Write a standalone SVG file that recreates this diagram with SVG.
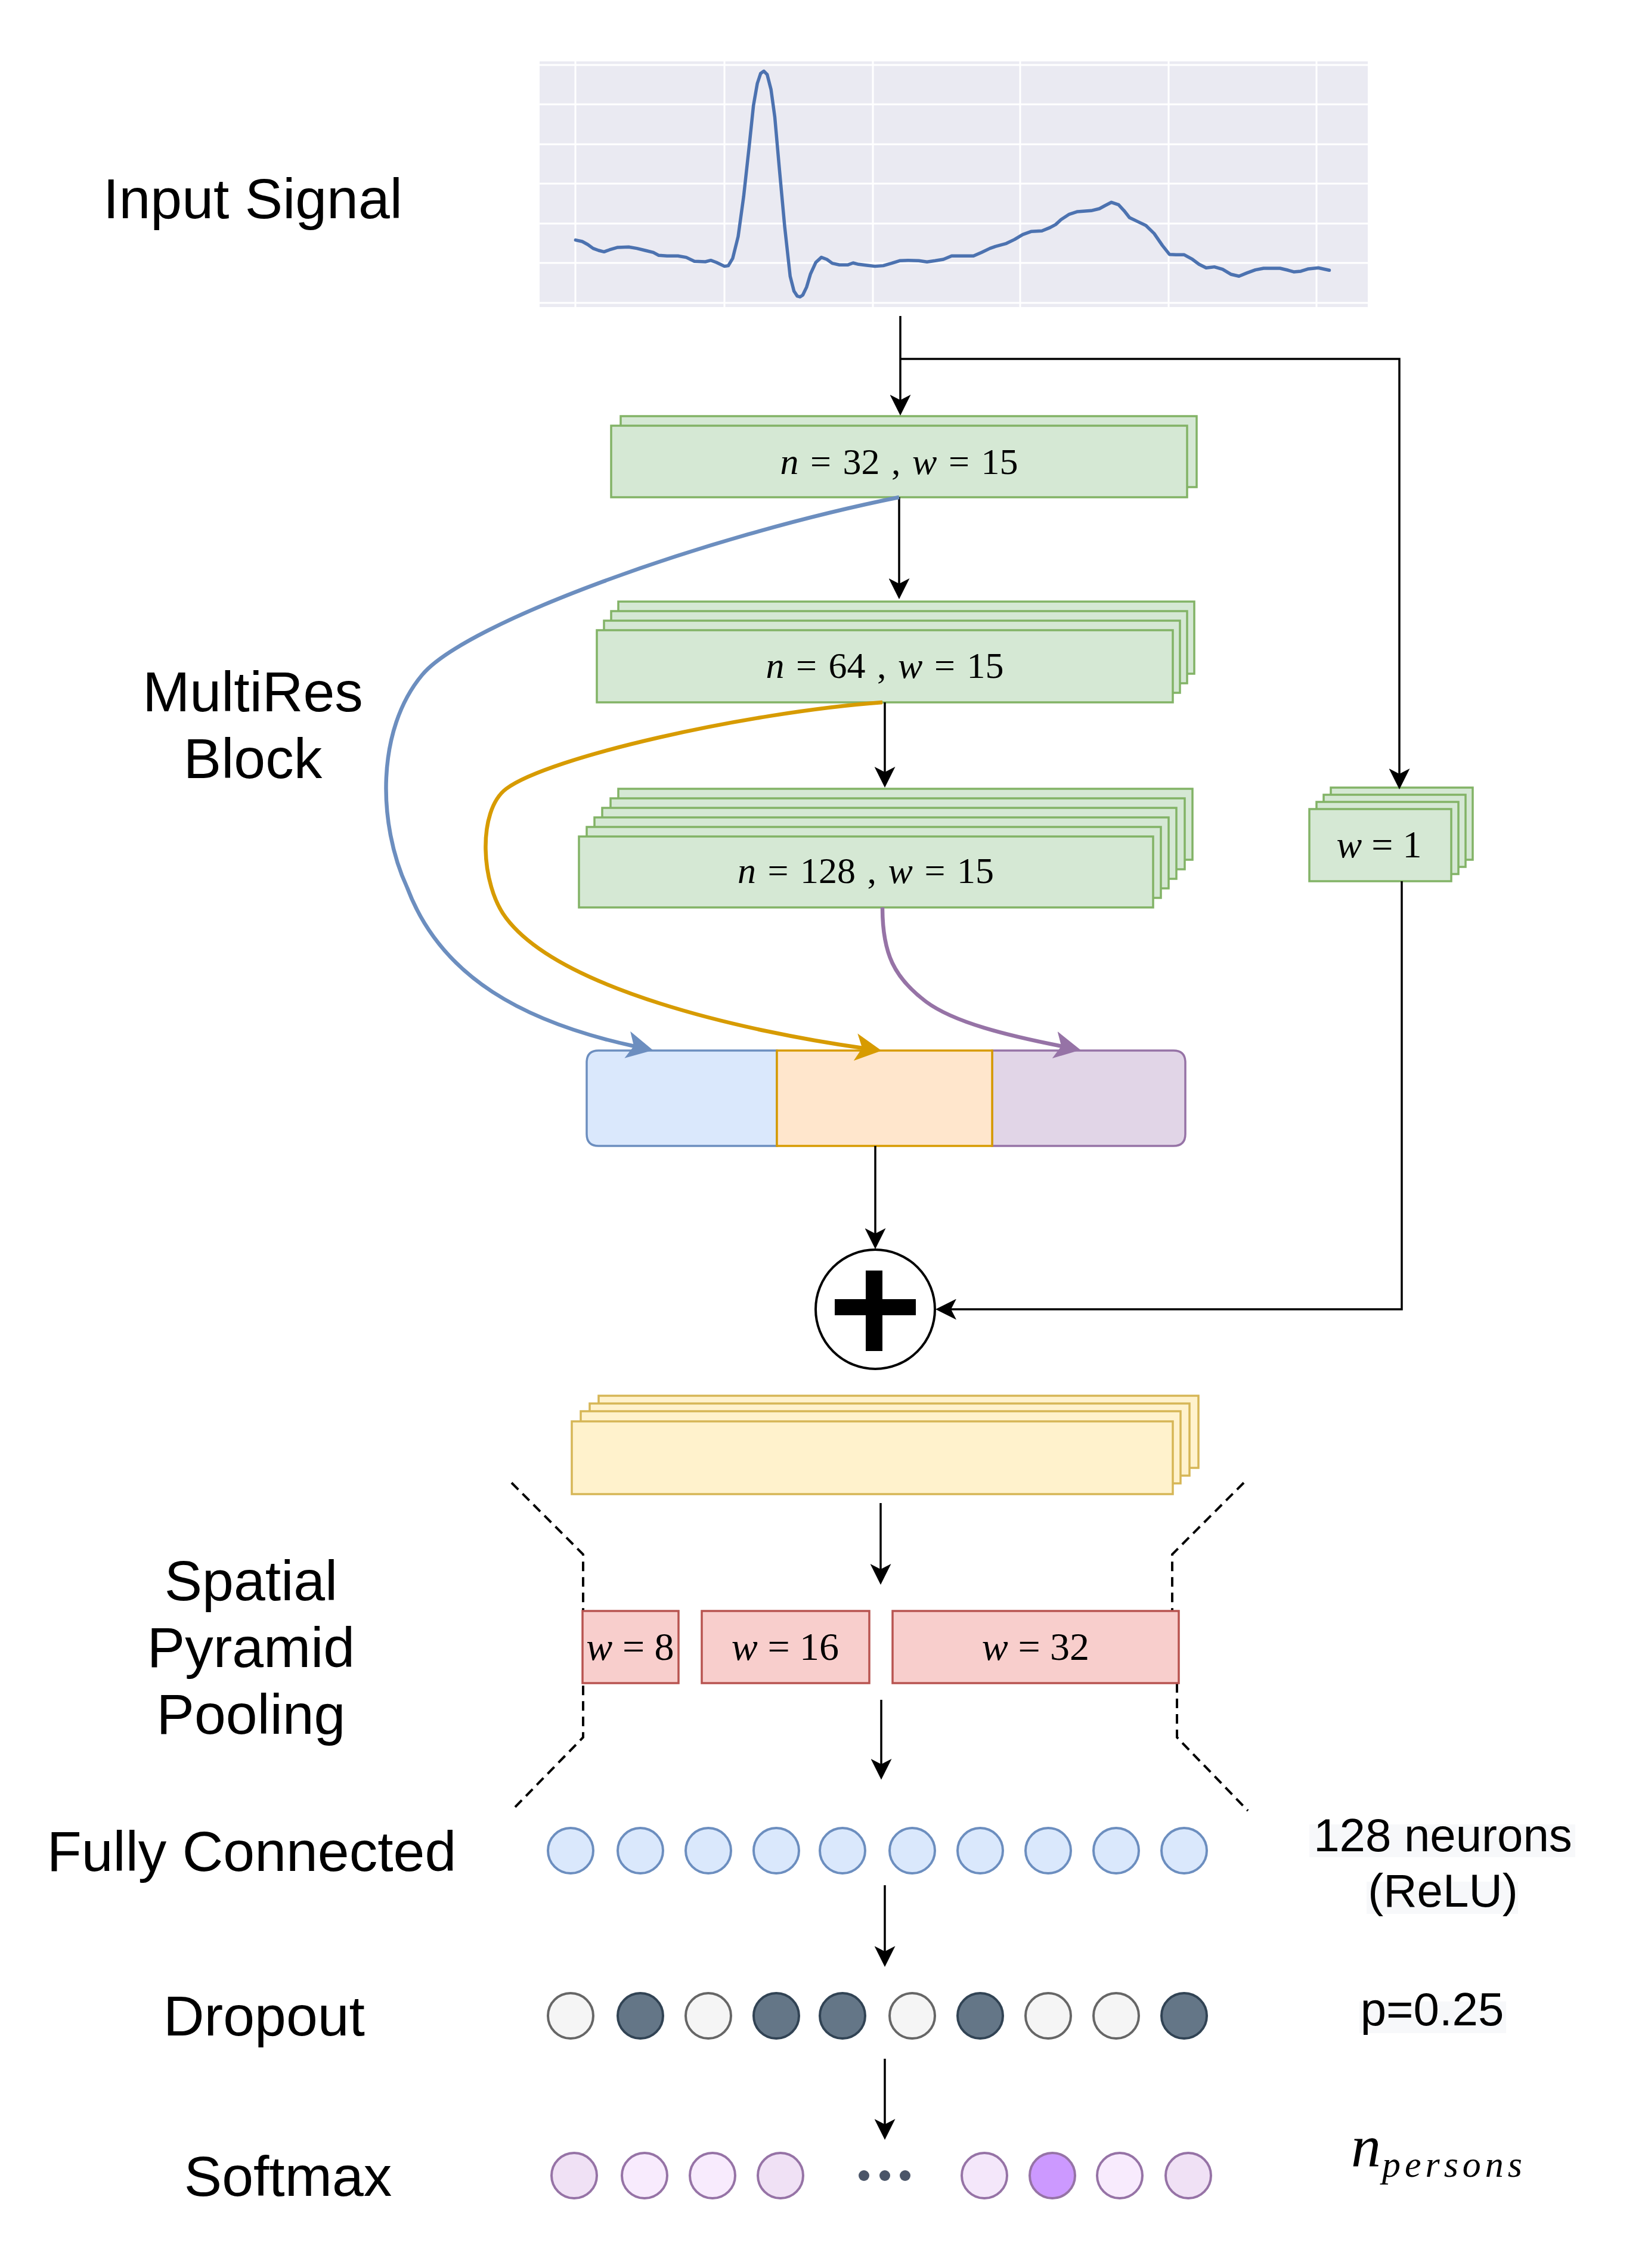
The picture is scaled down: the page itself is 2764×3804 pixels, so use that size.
<svg xmlns="http://www.w3.org/2000/svg" width="2764" height="3804" viewBox="0 0 2764 3804">
<style>
.lbl{font-family:"Liberation Sans",Arial,sans-serif;font-size:95px;text-anchor:middle;fill:#000}
.rl{font-family:"Liberation Sans",Arial,sans-serif;font-size:78px;text-anchor:middle;fill:#000}
.m{font-family:"Liberation Serif","Times New Roman",serif;font-size:62px;text-anchor:middle;word-spacing:4px;fill:#000}
.ms{font-family:"Liberation Serif","Times New Roman",serif;font-size:66px;text-anchor:middle;fill:#000}
.i{font-style:italic}
.g{fill:#d5e8d4;stroke:#82b366;stroke-width:3.5}
.y{fill:#fff2cc;stroke:#d6b656;stroke-width:3.5}
.r{fill:#f8cecc;stroke:#b85450;stroke-width:3.5}
.fc{fill:#dae8fc;stroke:#6c8ebf;stroke-width:4}
.dl{fill:#f5f5f5;stroke:#666666;stroke-width:4}
.dd{fill:#647687;stroke:#314354;stroke-width:4}
.sm{stroke:#9673a6;stroke-width:4}
.arr{fill:none;stroke:#000;stroke-width:3.5;marker-end:url(#ah)}
.dash{fill:none;stroke:#000;stroke-width:4;stroke-dasharray:16 10}
.grid{stroke:#ffffff;stroke-width:3}
.hl{fill:#f7f8fa}
</style>
<defs>
<marker id="ah" markerUnits="userSpaceOnUse" markerWidth="35" markerHeight="35" viewBox="0 0 35 35" refX="11" refY="17.5" orient="auto"><path d="M0,0 L35,17.5 L0,35 L9,17.5 Z" fill="#000"/></marker>
<marker id="ahB" markerUnits="userSpaceOnUse" markerWidth="44" markerHeight="46" viewBox="0 0 44 46" refX="13" refY="23" orient="auto"><path d="M0,0 L44,23 L0,46 L11,23 Z" fill="#6c8ebf"/></marker>
<marker id="ahO" markerUnits="userSpaceOnUse" markerWidth="44" markerHeight="46" viewBox="0 0 44 46" refX="13" refY="23" orient="auto"><path d="M0,0 L44,23 L0,46 L11,23 Z" fill="#d79b00"/></marker>
<marker id="ahP" markerUnits="userSpaceOnUse" markerWidth="44" markerHeight="46" viewBox="0 0 44 46" refX="13" refY="23" orient="auto"><path d="M0,0 L44,23 L0,46 L11,23 Z" fill="#9673a6"/></marker>
</defs>
<rect width="2764" height="3804" fill="#ffffff"/>

<g id="labels">
<text class="lbl" x="424" y="366">Input Signal</text>
<text class="lbl" x="424" y="1193">MultiRes</text>
<text class="lbl" x="424" y="1305">Block</text>
<text class="lbl" x="421" y="2684">Spatial</text>
<text class="lbl" x="421" y="2796">Pyramid</text>
<text class="lbl" x="421" y="2908">Pooling</text>
<text class="lbl" x="422" y="3138">Fully Connected</text>
<text class="lbl" x="443" y="3414">Dropout</text>
<text class="lbl" x="483" y="3683">Softmax</text>
</g>

<g id="input-signal">
<rect x="905" y="103" width="1389" height="412" fill="#eaeaf2"/>
<line class="grid" x1="905" y1="109" x2="2294" y2="109"/>
<line class="grid" x1="905" y1="175" x2="2294" y2="175"/>
<line class="grid" x1="905" y1="242" x2="2294" y2="242"/>
<line class="grid" x1="905" y1="308" x2="2294" y2="308"/>
<line class="grid" x1="905" y1="375" x2="2294" y2="375"/>
<line class="grid" x1="905" y1="441" x2="2294" y2="441"/>
<line class="grid" x1="905" y1="508" x2="2294" y2="508"/>
<line class="grid" x1="965" y1="103" x2="965" y2="515"/>
<line class="grid" x1="1215" y1="103" x2="1215" y2="515"/>
<line class="grid" x1="1464" y1="103" x2="1464" y2="515"/>
<line class="grid" x1="1711" y1="103" x2="1711" y2="515"/>
<line class="grid" x1="1960" y1="103" x2="1960" y2="515"/>
<line class="grid" x1="2208" y1="103" x2="2208" y2="515"/>
<g transform="translate(880,80) scale(0.918,0.3333)">
<path vector-effect="non-scaling-stroke" fill="none" stroke="#4c72b0" stroke-width="5.5" stroke-linejoin="round" stroke-linecap="round" d="M93,968 L105,975 L115,990 L125,1010 L135,1020 L145,1027 L155,1017 L170,1005 L190,1003 L205,1010 L220,1020 L235,1030 L245,1045 L260,1048 L280,1048 L295,1055 L310,1075 L330,1077 L340,1070 L350,1080 L365,1100 L372,1097 L380,1060 L390,950 L400,750 L410,500 L418,290 L425,180 L431,130 L437,118 L443,135 L450,210 L457,350 L465,600 L475,900 L485,1150 L492,1225 L498,1250 L503,1254 L508,1245 L515,1205 L522,1140 L532,1080 L542,1055 L552,1065 L562,1085 L575,1093 L590,1093 L600,1083 L610,1090 L625,1095 L640,1100 L655,1097 L670,1085 L685,1072 L700,1070 L720,1072 L735,1078 L750,1072 L765,1065 L780,1048 L800,1048 L820,1048 L835,1030 L850,1010 L860,1000 L880,985 L895,965 L910,940 L925,925 L945,922 L960,905 L970,890 L980,865 L995,838 L1010,825 L1035,820 L1050,810 L1060,795 L1072,778 L1085,790 L1095,820 L1105,855 L1120,875 L1135,895 L1150,935 L1165,995 L1178,1040 L1190,1042 L1205,1042 L1220,1065 L1232,1090 L1245,1108 L1260,1103 L1275,1115 L1290,1140 L1305,1150 L1320,1133 L1335,1118 L1350,1110 L1380,1110 L1395,1120 L1405,1128 L1418,1125 L1432,1113 L1450,1108 L1470,1120"/>
</g>
</g>

<g id="block-n32">
<rect class="g" x="1041" y="698" width="966" height="119"/>
<rect class="g" x="1025" y="714" width="966" height="120"/>
<text class="m" x="1508" y="795"><tspan class="i">n</tspan> = 32 , <tspan class="i">w</tspan> = 15</text>
</g>

<g id="block-n64">
<rect class="g" x="1037" y="1009" width="966" height="121"/>
<rect class="g" x="1025" y="1025" width="966" height="121"/>
<rect class="g" x="1013" y="1041" width="966" height="121"/>
<rect class="g" x="1001" y="1057" width="966" height="121"/>
<text class="m" x="1484" y="1137"><tspan class="i">n</tspan> = 64 , <tspan class="i">w</tspan> = 15</text>
</g>

<g id="block-n128">
<rect class="g" x="1037" y="1323" width="963" height="119"/>
<rect class="g" x="1024" y="1339" width="963" height="119"/>
<rect class="g" x="1010" y="1355" width="963" height="119"/>
<rect class="g" x="997" y="1371" width="963" height="119"/>
<rect class="g" x="984" y="1387" width="963" height="119"/>
<rect class="g" x="971" y="1403" width="963" height="119"/>
<text class="m" x="1452" y="1481"><tspan class="i">n</tspan> = 128 , <tspan class="i">w</tspan> = 15</text>
</g>

<g id="block-w1">
<rect class="g" x="2232" y="1321" width="238" height="121"/>
<rect class="g" x="2220" y="1333" width="238" height="121"/>
<rect class="g" x="2208" y="1345" width="238" height="121"/>
<rect class="g" x="2196" y="1357" width="238" height="121"/>
<text class="ms" x="2313" y="1438" style="font-size:64px"><tspan class="i">w</tspan> = 1</text>
</g>

<g id="concat">
<path d="M1303,1762 H1004 Q984,1762 984,1782 V1902 Q984,1922 1004,1922 H1303 Z" fill="#dae8fc" stroke="#6c8ebf" stroke-width="3.5"/>
<path d="M1664,1762 H1968 Q1988,1762 1988,1782 V1902 Q1988,1922 1968,1922 H1664 Z" fill="#e1d5e7" stroke="#9673a6" stroke-width="3.5"/>
<rect x="1303" y="1762" width="361" height="160" fill="#ffe6cc" stroke="#d79b00" stroke-width="3.5"/>
</g>

<g id="add">
<circle cx="1468" cy="2196" r="100" fill="#ffffff" stroke="#000" stroke-width="4"/>
<rect x="1452" y="2131" width="28" height="135" fill="#000"/>
<rect x="1400" y="2179" width="136" height="27" fill="#000"/>
</g>

<g id="feature-maps">
<rect class="y" x="1004" y="2341" width="1006" height="121"/>
<rect class="y" x="989" y="2354" width="1006" height="121"/>
<rect class="y" x="974" y="2367" width="1006" height="121"/>
<rect class="y" x="959" y="2384" width="1008" height="122"/>
</g>

<g id="spp-bracket">
<path class="dash" d="M858,2487 L978,2607 L978,2914 L858,3037"/>
<path class="dash" d="M2086,2487 L1966,2607 L1966,2702"/>
<path class="dash" d="M1974,2823 L1974,2914 L2093,3037"/>
</g>

<g id="spp">
<rect class="r" x="977" y="2702" width="161" height="121"/>
<rect class="r" x="1177" y="2702" width="281" height="121"/>
<rect class="r" x="1497" y="2702" width="480" height="121"/>
<text class="ms" x="1057" y="2784"><tspan class="i">w</tspan> = 8</text>
<text class="ms" x="1317" y="2784"><tspan class="i">w</tspan> = 16</text>
<text class="ms" x="1737" y="2784"><tspan class="i">w</tspan> = 32</text>
</g>

<g id="fully-connected">
<circle class="fc" cx="957" cy="3104" r="38"/>
<circle class="fc" cx="1074" cy="3104" r="38"/>
<circle class="fc" cx="1188" cy="3104" r="38"/>
<circle class="fc" cx="1302" cy="3104" r="38"/>
<circle class="fc" cx="1413" cy="3104" r="38"/>
<circle class="fc" cx="1530" cy="3104" r="38"/>
<circle class="fc" cx="1644" cy="3104" r="38"/>
<circle class="fc" cx="1758" cy="3104" r="38"/>
<circle class="fc" cx="1872" cy="3104" r="38"/>
<circle class="fc" cx="1986" cy="3104" r="38"/>
</g>

<g id="dropout">
<circle class="dl" cx="957" cy="3381" r="38"/>
<circle class="dd" cx="1074" cy="3381" r="38"/>
<circle class="dl" cx="1188" cy="3381" r="38"/>
<circle class="dd" cx="1302" cy="3381" r="38"/>
<circle class="dd" cx="1413" cy="3381" r="38"/>
<circle class="dl" cx="1530" cy="3381" r="38"/>
<circle class="dd" cx="1644" cy="3381" r="38"/>
<circle class="dl" cx="1758" cy="3381" r="38"/>
<circle class="dl" cx="1872" cy="3381" r="38"/>
<circle class="dd" cx="1986" cy="3381" r="38"/>
</g>

<g id="softmax">
<circle class="sm" cx="963" cy="3649" r="38" fill="#f0e1f5"/>
<circle class="sm" cx="1081" cy="3649" r="38" fill="#f8ebfd"/>
<circle class="sm" cx="1195" cy="3649" r="38" fill="#f8ebfd"/>
<circle class="sm" cx="1309" cy="3649" r="38" fill="#f0e1f5"/>
<circle cx="1449" cy="3649" r="9" fill="#4a5568"/>
<circle cx="1484" cy="3649" r="9" fill="#4a5568"/>
<circle cx="1518" cy="3649" r="9" fill="#4a5568"/>
<circle class="sm" cx="1651" cy="3649" r="38" fill="#f4e7fa"/>
<circle class="sm" cx="1765" cy="3649" r="38" fill="#cc99ff"/>
<circle class="sm" cx="1878" cy="3649" r="38" fill="#f8ebfd"/>
<circle class="sm" cx="1993" cy="3649" r="38" fill="#f0e1f5"/>
</g>

<g id="side-labels">
<rect class="hl" x="2196" y="3060" width="446" height="55"/>
<rect class="hl" x="2292" y="3156" width="254" height="54"/>
<rect class="hl" x="2280" y="3357" width="246" height="53"/>
<text class="rl" x="2420" y="3105">128 neurons</text>
<text class="rl" x="2420" y="3198">(ReLU)</text>
<text class="rl" x="2402" y="3397">p=0.25</text>
<text font-family="'Liberation Serif','Times New Roman',serif" font-style="italic" fill="#000"><tspan x="2266" y="3633" font-size="100">n</tspan><tspan x="2318" y="3651" font-size="62" letter-spacing="7">persons</tspan></text>
</g>

<g id="connectors">
<path class="arr" d="M1510,530 V673"/>
<path class="arr" d="M1510,602 H2347 V1300"/>
<path class="arr" d="M1508,834 V981"/>
<path class="arr" d="M1484,1178 V1297"/>
<path class="arr" d="M1468,1922 V2071"/>
<path class="arr" d="M2351,1478 V2196 H1593"/>
<path class="arr" d="M1477,2521 V2634"/>
<path class="arr" d="M1478,2851 V2961"/>
<path class="arr" d="M1484,3162 V3275"/>
<path class="arr" d="M1484,3453 V3565"/>
<path fill="none" stroke="#6c8ebf" stroke-width="6.5" marker-end="url(#ahB)" d="M1508,834 C1180,900 780,1045 708,1132 C631,1224 633,1381 683,1489 C740,1640 880,1715 1065,1755"/>
<path fill="none" stroke="#d79b00" stroke-width="6.5" marker-end="url(#ahO)" d="M1480,1178 C1250,1195 920,1270 849,1323 C800,1360 806,1484 849,1540 C940,1660 1250,1730 1448,1758"/>
<path fill="none" stroke="#9673a6" stroke-width="6.5" marker-end="url(#ahP)" d="M1480,1522 C1480,1600 1500,1640 1553,1680 C1600,1715 1690,1737 1782,1755"/>
</g>
</svg>
